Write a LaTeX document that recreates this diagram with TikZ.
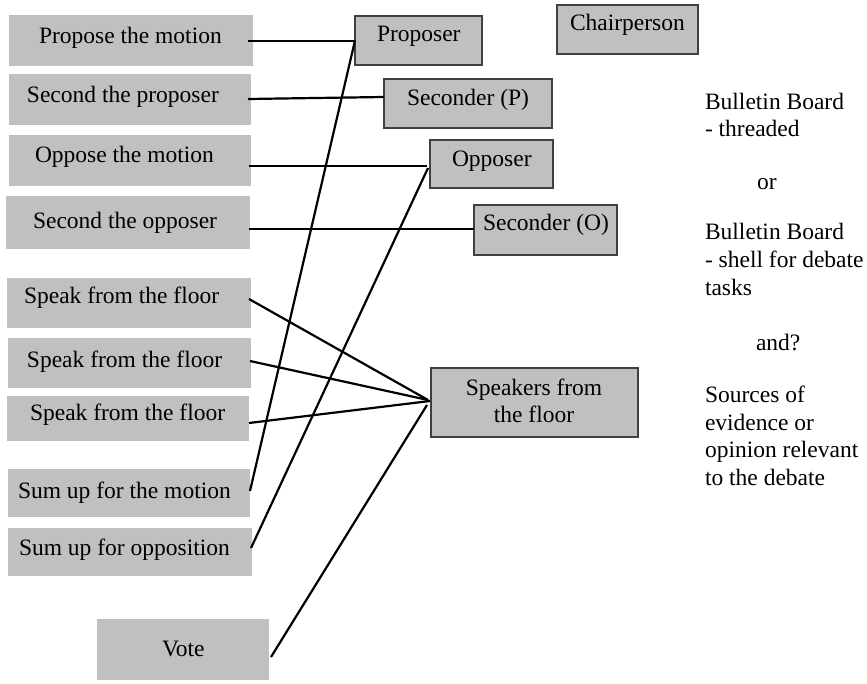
\documentclass[tikz,border=0pt]{standalone}
\usepackage{fontspec}
\setmainfont{Liberation Serif}
\usetikzlibrary{calc}
\begin{document}
\begin{tikzpicture}[x=1pt,y=-1pt,
  lbox/.style={fill=boxgray,draw=none,inner sep=0pt,outer sep=0pt,anchor=north west},
  rbox/.style={fill=boxgray,draw=boxedge,line width=1.6pt,inner sep=0pt,outer sep=0pt,anchor=north west},
  txt/.style={inner sep=0pt,outer sep=0pt,anchor=base west,font=\fontsize{23.5}{27}\selectfont},
  conn/.style={draw=black,line width=2.2pt},
]
\definecolor{boxgray}{HTML}{C0C0C0}
\definecolor{boxedge}{HTML}{404040}
\useasboundingbox (0,0) rectangle (867,684);

% left boxes
\node[lbox,minimum width=244,minimum height=51] (l1) at (9,15) {};
\node[lbox,minimum width=242,minimum height=51] (l2) at (9,74) {};
\node[lbox,minimum width=242,minimum height=51] (l3) at (9,135) {};
\node[lbox,minimum width=244,minimum height=53] (l4) at (6,196) {};
\node[lbox,minimum width=244,minimum height=50] (l5) at (7,278) {};
\node[lbox,minimum width=243,minimum height=50] (l6) at (8,338) {};
\node[lbox,minimum width=242,minimum height=45] (l7) at (7,396) {};
\node[lbox,minimum width=242,minimum height=48] (l8) at (8,469) {};
\node[lbox,minimum width=244,minimum height=48] (l9) at (8,528) {};
\node[lbox,minimum width=172,minimum height=61] (l10) at (97,619) {};

\node[txt] (t1) at (39,44) {Propose the motion};
\node[txt] (t2) at (27,103) {Second the proposer};
\node[txt] (t3) at (35,163) {Oppose the motion};
\node[txt] (t4) at (33,229) {Second the opposer};
\node[txt] (t5) at (24,304) {Speak from the floor};
\node[txt] (t6) at (27,367) {Speak from the floor};
\node[txt] (t7) at (30,420) {Speak from the floor};
\node[txt] (t8) at (18,498) {Sum up for the motion};
\node[txt] (t9) at (19,555) {Sum up for opposition};
\node[txt] (t10) at (162,656) {Vote};

% right boxes
\node[rbox,minimum width=127,minimum height=49] (r1) at (355,16) {};
\node[rbox,minimum width=141,minimum height=49] (ch) at (557,5) {};
\node[rbox,minimum width=168,minimum height=49] (r2) at (384,79) {};
\node[rbox,minimum width=123,minimum height=48] (r3) at (430,140) {};
\node[rbox,minimum width=143,minimum height=50] (r4) at (474,205) {};
\node[rbox,minimum width=207,minimum height=69] (sp) at (431,368) {};

\node[txt] (u1) at (377,42) {Proposer};
\node[txt] (uch) at (570,31) {Chairperson};
\node[txt] (u2) at (407,106) {Seconder (P)};
\node[txt] (u3) at (452,167) {Opposer};
\node[txt] (u4) at (483,231) {Seconder (O)};
\node[txt,anchor=base] (usp1) at (534,395) {Speakers from};
\node[txt,anchor=base] (usp2) at (534,422) {the floor};

% right column notes
\node[txt] (n1) at (705,110) {Bulletin Board};
\node[txt] (n2) at (705,137) {- threaded};
\node[txt] (n3) at (757,190) {or};
\node[txt] (n4) at (705,240) {Bulletin Board};
\node[txt] (n5) at (705,268) {- shell for debate};
\node[txt] (n6) at (705,296) {tasks};
\node[txt] (n7) at (756,351) {and?};
\node[txt] (n8) at (705,402) {Sources of};
\node[txt] (n9) at (705,430) {evidence or};
\node[txt] (n10) at (705,457) {opinion relevant};
\node[txt] (n11) at (705,485) {to the debate};

% connectors
\draw[conn] ($(l1.east)+(-5,0.5)$) -- ($(r1.west)+(0,0.5)$);
\draw[conn] ($(l2.east)+(-3,-0.5)$) -- ($(r2.west)+(0,-6.5)$);
\draw[conn] ($(l3.east)+(-2,5.5)$) -- ($(r3.west)+(-3,2)$);
\draw[conn] ($(l4.east)+(-1,6.5)$) -- ($(r4.west)+(0,-1)$);
\draw[conn] ($(l5.east)+(-2,-4)$) -- ($(sp.west)+(-3,-2.5)$);
\draw[conn] ($(l6.east)+(-1,-2)$) -- ($(sp.west)+(-3,-2.5)$);
\draw[conn] ($(l7.east)+(0,4.5)$) -- ($(sp.west)+(-1,-1.5)$);
\draw[conn] ($(l8.east)+(0,-2)$) -- (r1.west);
\draw[conn] ($(l9.east)+(-1,-4)$) -- ($(r3.west)+(-2,4)$);
\draw[conn] ($(l10.east)+(2,7.5)$) -- ($(sp.west)+(-4,2.5)$);
\end{tikzpicture}
\end{document}
